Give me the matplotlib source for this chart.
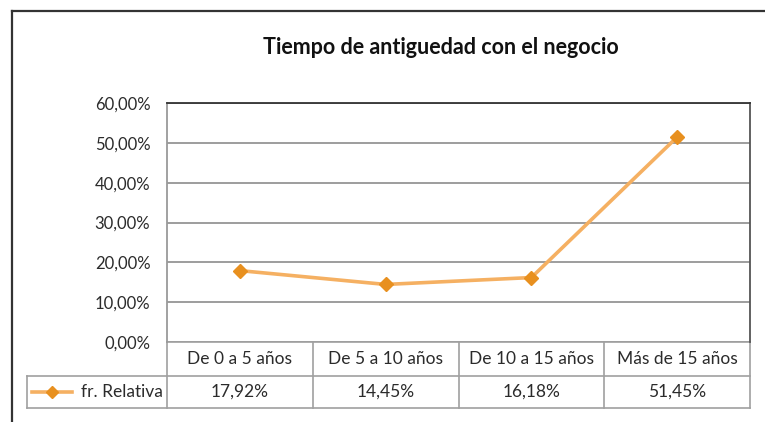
import matplotlib
matplotlib.use("Agg")
import matplotlib.pyplot as plt
from matplotlib.ticker import FuncFormatter
from matplotlib.lines import Line2D

# data
categories = ["De 0 a 5 años", "De 5 a 10 años", "De 10 a 15 años", "Más de 15 años"]
fr_relativa = [17.92, 14.45, 16.18, 51.45]
series_name = "fr. Relativa"
title = "Tiempo de antiguedad con el negocio"
y_ticks = [0, 10, 20, 30, 40, 50, 60]

plt.rcParams['font.family'] = ['Lato', 'DejaVu Sans']

W, H = 765, 422
fig = plt.figure(figsize=(W / 100, H / 100), dpi=100)
fig.patch.set_facecolor("white")

# outer chart border: only top and left are visible in the screenshot
bx, by = 12 / W, 1 - 11 / H
fig.add_artist(Line2D([bx, 1.0], [by, by], transform=fig.transFigure,
                      color="#333333", linewidth=1.6))
fig.add_artist(Line2D([bx, bx], [0.0, by], transform=fig.transFigure,
                      color="#333333", linewidth=1.6))

left, right, top, bottom = 167, 750, 103, 342
ax = fig.add_axes([left / W, 1 - bottom / H, (right - left) / W, (bottom - top) / H])

x = list(range(len(categories)))
line_col = "#F5B062"
mark_col = "#E8901F"
ax.plot(x, fr_relativa, color=line_col, linewidth=2.6, zorder=3)
ax.plot(x, fr_relativa, linestyle="none", marker="D", markersize=7,
        markerfacecolor=mark_col, markeredgecolor=mark_col, zorder=4)

ax.set_xlim(-0.5, len(categories) - 0.5)
ax.set_ylim(0, 60)
ax.set_yticks(y_ticks)
ax.yaxis.set_major_formatter(FuncFormatter(lambda v, p: f"{v:.2f}%".replace(".", ",")))
ax.tick_params(axis="y", length=0, pad=12, labelsize=12, labelcolor="#2b2b2b")
ax.set_xticks([])
ax.grid(axis="y", color="#8c8c8c", linewidth=1.2)
ax.set_axisbelow(True)
ax.spines["top"].set_color("#333333")
ax.spines["right"].set_color("#555555")
ax.spines["left"].set_color("#9a9a9a")
ax.spines["bottom"].set_visible(False)
for s in ["top", "right", "left"]:
    ax.spines[s].set_linewidth(1.3)

fig.text(441 / W, 1 - 47 / H, title, ha="center", va="center",
         fontsize=15.5, fontweight="bold", color="#111111")

# data table under the plot
ph = bottom - top
r1 = -(376 - bottom) / ph
r2 = -(408 - bottom) / ph
col_w = (right - left) / len(categories)
x_leg = -0.5 - (left - 27) / col_w
tr = ax.get_xaxis_transform()
gcol = "#a0a0a0"
kw = dict(transform=tr, clip_on=False, color=gcol, linewidth=1.2)

ax.add_line(Line2D([-0.5, 3.5], [0, 0], **kw))
ax.add_line(Line2D([x_leg, 3.5], [r1, r1], **kw))
ax.add_line(Line2D([x_leg, 3.5], [r2, r2], **kw))
ax.add_line(Line2D([x_leg, x_leg], [r1, r2], **kw))
for i in range(len(categories) + 1):
    ax.add_line(Line2D([i - 0.5, i - 0.5], [0, r2], **kw))

for i, (c, v) in enumerate(zip(categories, fr_relativa)):
    ax.text(i, r1 / 2, c, transform=tr, ha="center", va="center", fontsize=12.5, color="#2b2b2b")
    ax.text(i, (r1 + r2) / 2, f"{v:.2f}%".replace(".", ","), transform=tr,
            ha="center", va="center", fontsize=12.5, color="#2b2b2b")

# legend key inside table
ym = (r1 + r2) / 2
px = lambda p: -0.5 - (left - p) / col_w
ax.add_line(Line2D([px(32), px(72)], [ym, ym], transform=tr, clip_on=False,
                   color=line_col, linewidth=2.6))
ax.add_line(Line2D([px(52)], [ym], transform=tr, clip_on=False, marker="D",
                   markersize=6, color=mark_col, linestyle="none"))
ax.text(px(163), ym, series_name, transform=tr, ha="right", va="center",
        fontsize=12.5, color="#2b2b2b")

fig.savefig("out.png", dpi=100)
